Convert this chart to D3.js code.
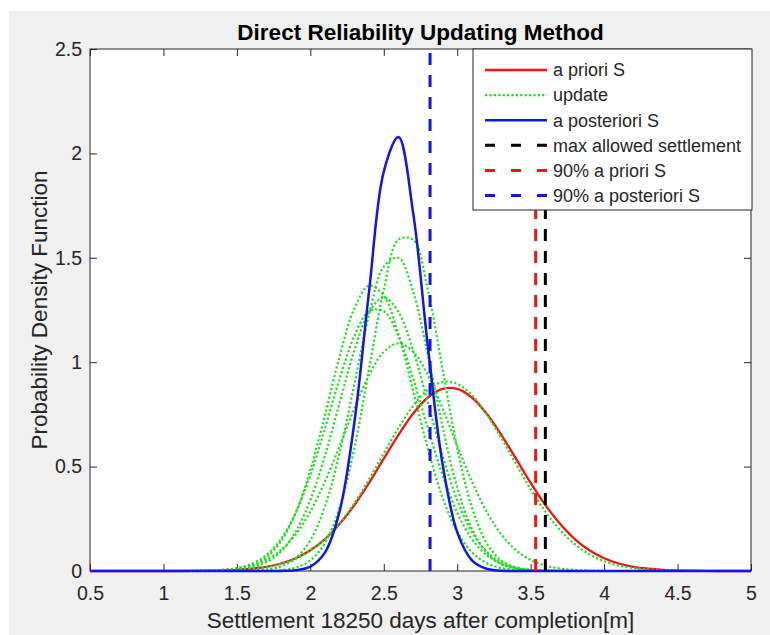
<!DOCTYPE html>
<html><head><meta charset="utf-8">
<script src="https://cdn.jsdelivr.net/npm/d3@7"></script>
<style>body{margin:0;background:#fff}svg{display:block;font-family:"Liberation Sans",Arial,Helvetica,sans-serif}</style>
</head><body><svg id="c" width="770" height="635"></svg>
<script>
// ---- data ----
const xValues = [0.5,0.6,0.7,0.8,0.9,1.0,1.1,1.2,1.3,1.4,1.5,1.6,1.7,1.8,1.9,2.0,2.1,2.2,2.3,2.4,2.5,2.6,2.7,2.8,2.9,3.0,3.1,3.2,3.3,3.4,3.5,3.6,3.7,3.8,3.9,4.0,4.1,4.2,4.3,4.4,4.5,4.6,4.7,4.8,4.9,5.0];

const aPriori = [0,0,0,0,0,0,0,0.0005,0.0012,0.0026,0.0055,0.0107,0.020,0.036,0.061,0.099,0.153,0.226,0.316,0.422,0.538,0.652,0.754,0.831,0.872,0.872,0.831,0.754,0.652,0.538,0.422,0.316,0.226,0.153,0.099,0.061,0.036,0.020,0.011,0.0055,0.0026,0.0012,0.0005,0,0,0];

const aPosteriori = [0,0,0,0,0,0,0,0,0,0,0,0,0,0.0005,0.0037,0.021,0.089,0.288,0.713,1.340,1.913,2.078,1.715,1.076,0.513,0.186,0.051,0.0108,0.0017,0.0002,0,0,0,0,0,0,0,0,0,0,0,0,0,0,0,0];

const update1 = [0,0,0,0,0,0,0,0,0.001,0.002,0.005,0.009,0.018,0.034,0.059,0.097,0.153,0.229,0.325,0.439,0.563,0.685,0.791,0.868,0.905,0.896,0.842,0.751,0.637,0.513,0.392,0.284,0.196,0.129,0.080,0.047,0.026,0.014,0.007,0.003,0.002,0.001,0,0,0,0];
const update2 = [0,0,0,0,0,0,0,0,0.002,0.005,0.012,0.026,0.053,0.100,0.175,0.285,0.429,0.600,0.779,0.939,1.050,1.090,1.050,0.939,0.779,0.600,0.429,0.285,0.175,0.100,0.053,0.026,0.012,0.005,0.002,0,0,0,0,0,0,0,0,0,0,0];
const update3 = [0,0,0,0,0,0,0,0,0,0,0,0,0.001,0.004,0.016,0.050,0.134,0.305,0.590,0.968,1.346,1.587,1.587,1.346,0.968,0.590,0.305,0.134,0.050,0.016,0.004,0.001,0,0,0,0,0,0,0,0,0,0,0,0,0,0];
const update4 = [0,0,0,0,0,0,0,0,0,0,0,0.002,0.007,0.022,0.061,0.147,0.310,0.567,0.896,1.228,1.458,1.500,1.338,1.034,0.692,0.401,0.202,0.088,0.033,0.011,0.003,0.001,0,0,0,0,0,0,0,0,0,0,0,0,0,0];
const update5 = [0,0,0,0,0,0,0,0,0.001,0.003,0.009,0.026,0.064,0.142,0.278,0.484,0.749,1.030,1.258,1.367,1.319,1.132,0.863,0.585,0.352,0.188,0.090,0.038,0.014,0.005,0.001,0,0,0,0,0,0,0,0,0,0,0,0,0,0,0];
const update6 = [0,0,0,0,0,0,0,0,0.001,0.002,0.006,0.017,0.042,0.093,0.188,0.340,0.553,0.807,1.056,1.241,1.310,1.241,1.056,0.807,0.553,0.340,0.188,0.093,0.042,0.017,0.006,0.002,0.001,0,0,0,0,0,0,0,0,0,0,0,0,0];
const update7 = [0,0,0,0,0,0,0,0.001,0.002,0.005,0.014,0.034,0.076,0.153,0.279,0.459,0.684,0.922,1.126,1.244,1.244,1.126,0.922,0.684,0.459,0.279,0.153,0.076,0.034,0.014,0.005,0.002,0.001,0,0,0,0,0,0,0,0,0,0,0,0,0];
const updates = [update1, update2, update3, update4, update5, update6, update7];

const maxAllowed = 3.60;
const priori90 = 3.534;
const posteriori90 = 2.815;

const xTicks = [0.5,1,1.5,2,2.5,3,3.5,4,4.5,5];
const xTickLabels = ["0.5","1","1.5","2","2.5","3","3.5","4","4.5","5"];
const yTicks = [0,0.5,1,1.5,2,2.5];
const yTickLabels = ["0","0.5","1","1.5","2","2.5"];
const legendLabels = ["a priori S","update","a posteriori S","max allowed settlement","90% a priori S","90% a posteriori S"];
const titleText = "Direct Reliability Updating Method";
const xLabel = "Settlement 18250 days after completion[m]";
const yLabel = "Probability Density Function";

// ---- drawing ----
const FONT = '"Liberation Sans",Arial,Helvetica,sans-serif';
const TXT = "#262626";
const RED = "#f01414", GREEN = "#22dd22", BLUE = "#1414e6", BLACK = "#000";
const svg = d3.select("#c");
svg.append("rect").attr("width",770).attr("height",635).attr("fill","#fff");
svg.append("rect").attr("x",9).attr("y",11).attr("width",761).attr("height",624).attr("fill","#f0f0f0");

const L=90, R=751, T=49, B=571;
const x = d3.scaleLinear().domain([0.5,5]).range([L,R]);
const y = d3.scaleLinear().domain([0,2.5]).range([B,T]);

svg.append("rect").attr("x",L).attr("y",T).attr("width",R-L).attr("height",B-T).attr("fill","#fff");

function styleAxis(g){
  g.select(".domain").remove();
  g.selectAll("line").attr("stroke",TXT);
  g.selectAll("text").attr("font-size",19.5).attr("fill",TXT).attr("font-family",FONT);
}
svg.append("g").attr("transform",`translate(0,${B})`)
  .call(d3.axisBottom(x).tickValues(xTicks).tickFormat((d,i)=>xTickLabels[i]).tickSize(-7).tickPadding(15)).call(styleAxis);
svg.append("g").attr("transform",`translate(0,${T})`)
  .call(d3.axisTop(x).tickValues(xTicks).tickFormat("").tickSize(-7)).call(styleAxis);
svg.append("g").attr("transform",`translate(${L},0)`)
  .call(d3.axisLeft(y).tickValues(yTicks).tickFormat((d,i)=>yTickLabels[i]).tickSize(-7).tickPadding(8)).call(styleAxis);
svg.append("g").attr("transform",`translate(${R},0)`)
  .call(d3.axisRight(y).tickValues(yTicks).tickFormat("").tickSize(-7)).call(styleAxis);
svg.append("rect").attr("x",L).attr("y",T).attr("width",R-L).attr("height",B-T)
  .attr("fill","none").attr("stroke",TXT).attr("stroke-width",1);

const line = d3.line().x((d,i)=>x(xValues[i])).y(d=>y(d)).curve(d3.curveCatmullRom.alpha(0.5));

svg.append("path").datum(aPriori).attr("d",line).attr("fill","none").attr("stroke",RED).attr("stroke-width",2.3);
svg.selectAll("path.upd").data(updates).enter().append("path").attr("class","upd")
  .attr("d",line).attr("fill","none").attr("stroke",GREEN).attr("stroke-width",2.2).attr("stroke-dasharray","2.2,2.2");
svg.append("path").datum(aPosteriori).attr("d",line).attr("fill","none").attr("stroke",BLUE).attr("stroke-width",2.5);

const vlines = [{v:maxAllowed,c:BLACK},{v:priori90,c:RED},{v:posteriori90,c:BLUE}];
svg.selectAll("line.v").data(vlines).enter().append("line").attr("class","v")
  .attr("x1",d=>x(d.v)).attr("x2",d=>x(d.v)).attr("y1",y(0)).attr("y2",y(2.5))
  .attr("stroke",d=>d.c).attr("stroke-width",3).attr("stroke-dasharray","12,10");

// legend
const lg = svg.append("g");
lg.append("rect").attr("x",473).attr("y",49).attr("width",279).attr("height",161)
  .attr("fill","#fff").attr("stroke",TXT).attr("stroke-width",1);
const legStyles = [
  {c:RED,w:2.3,d:null},{c:GREEN,w:2.2,d:"2.2,2.2"},{c:BLUE,w:2.5,d:null},
  {c:BLACK,w:3,d:"10,16"},{c:RED,w:3,d:"10,16"},{c:BLUE,w:3,d:"10,16"}];
legendLabels.forEach((t,i)=>{
  const yy = 70 + i*25.1;
  const s = legStyles[i];
  lg.append("line").attr("x1",485).attr("x2",547).attr("y1",yy).attr("y2",yy)
    .attr("stroke",s.c).attr("stroke-width",s.w).attr("stroke-dasharray",s.d);
  lg.append("text").attr("x",553).attr("y",yy).attr("dy","0.35em").attr("font-size",18)
    .attr("fill",TXT).text(t);
});

svg.append("text").attr("x",(L+R)/2).attr("y",40).attr("text-anchor","middle")
  .attr("font-size",22.5).attr("font-weight","bold").attr("fill","#000").text(titleText);
svg.append("text").attr("x",(L+R)/2).attr("y",628).attr("text-anchor","middle")
  .attr("font-size",22.5).attr("fill",TXT).text(xLabel);
svg.append("text").attr("transform",`translate(47,${(T+B)/2}) rotate(-90)`).attr("text-anchor","middle")
  .attr("font-size",22.5).attr("fill",TXT).text(yLabel);
</script></body></html>
